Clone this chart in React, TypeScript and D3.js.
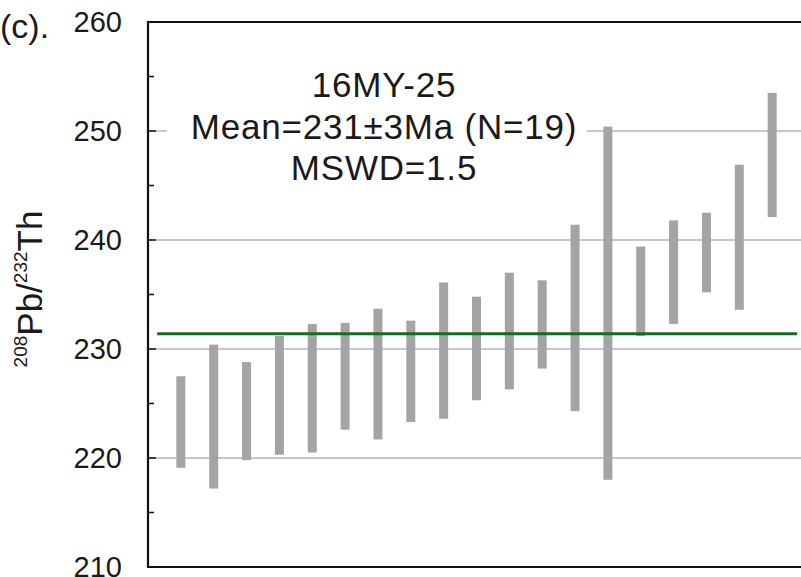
import React from "react";
import * as d3 from "d3";

// 2-sigma age ranges per analysis (Ma)
const spotIds = d3.range(1, 20);
const lower = [219.1, 217.2, 219.8, 220.3, 220.5, 222.6, 221.7, 223.3, 223.6, 225.3, 226.3, 228.2, 224.3, 218.0, 231.2, 232.3, 235.2, 233.6, 242.1];
const upper = [227.5, 230.4, 228.8, 231.2, 232.3, 232.4, 233.7, 232.6, 236.1, 234.8, 237.0, 236.3, 241.4, 250.4, 239.4, 241.8, 242.5, 246.9, 253.5];
const meanAge = 231.4;
const yTicks = [210, 220, 230, 240, 250, 260];
const yMinor = [215, 225, 235, 245, 255];
const gridTicks = [220, 230, 240, 250];
const infoLines = ["16MY-25", "Mean=231±3Ma (N=19)", "MSWD=1.5"];

const font = "'Liberation Sans', Arial, sans-serif";

export default function App() {
  const W = 801, H = 577;
  const left = 148, top = 22, bottom = 567, right = 805;

  const x = d3.scaleLinear().domain([0, 20]).range([left, right]);
  const y = d3.scaleLinear().domain([210, 260]).range([bottom, top]);
  const barW = 9;

  return (
    <svg width={W} height={H} style={{ position: "absolute", left: 0, top: 0, background: "#fff" }} fontFamily={font}>
      {/* gridlines */}
      {gridTicks.map((t) => (
        <line key={"g" + t} x1={left} x2={W} y1={y(t)} y2={y(t)} stroke="#8f8f8f" strokeWidth={1.2} />
      ))}
      {/* white block behind the annotation */}
      <rect x={167} y={40} width={420} height={150} fill="#fff" />

      {/* bars */}
      {spotIds.map((id, i) => (
        <rect
          key={id}
          x={x(id) - barW / 2}
          y={y(upper[i])}
          width={barW}
          height={y(lower[i]) - y(upper[i])}
          fill="#a4a4a4"
        />
      ))}

      {/* weighted mean */}
      <line x1={x(0.28)} x2={x(19.76)} y1={y(meanAge)} y2={y(meanAge)} stroke="#176b1e" strokeWidth={3} />

      {/* frame */}
      <line x1={left} x2={left} y1={top - 1} y2={bottom + 1} stroke="#111" strokeWidth={2.2} />
      <line x1={left - 1} x2={W} y1={top} y2={top} stroke="#111" strokeWidth={2.2} />
      <line x1={left - 1} x2={W} y1={bottom} y2={bottom} stroke="#111" strokeWidth={2.2} />

      {/* ticks */}
      {yTicks.map((t) => (
        <line key={"t" + t} x1={left} x2={left + 8} y1={y(t)} y2={y(t)} stroke="#111" strokeWidth={1.5} />
      ))}
      {yMinor.map((t) => (
        <line key={"m" + t} x1={left} x2={left + 6} y1={y(t)} y2={y(t)} stroke="#111" strokeWidth={1.5} />
      ))}
      {yTicks.map((t) => (
        <text key={"l" + t} x={122} y={y(t)} dy="0.36em" textAnchor="end" fontSize={29} fill="#1a1a1a">
          {t}
        </text>
      ))}

      {/* y label */}
      <text transform={`translate(42, 289) rotate(-90)`} textAnchor="middle" fontSize={35} fill="#1a1a1a">
        <tspan fontSize={19} dy="-15">208</tspan>
        <tspan dy="15">Pb/</tspan>
        <tspan fontSize={19} dy="-15">232</tspan>
        <tspan dy="15">Th</tspan>
      </text>

      {/* panel label */}
      <text x={0} y={38} fontSize={34} fill="#1a1a1a">(c).</text>

      {/* annotation */}
      {infoLines.map((s, i) => (
        <text key={s} x={384} y={97 + i * 41.5} textAnchor="middle" fontSize={35} letterSpacing={0.8} fill="#1a1a1a">
          {s}
        </text>
      ))}
    </svg>
  );
}
